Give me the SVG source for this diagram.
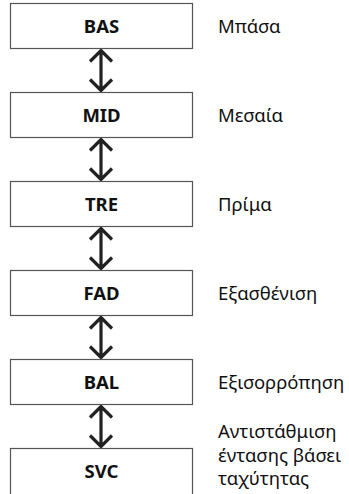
<svg xmlns="http://www.w3.org/2000/svg" width="349" height="494" viewBox="0 0 349 494">
<style>
.box{fill:#fff;stroke:#555;stroke-width:1.2}
.lbl{font-family:"Noto Sans","Open Sans",sans-serif;font-weight:bold;font-size:18.5px;fill:#111;text-anchor:middle}
.desc{font-family:"Noto Sans","Open Sans",sans-serif;font-size:18.5px;fill:#111}
.arr{fill:none;stroke:#222;stroke-width:3.2;stroke-linejoin:miter}
</style>
<rect width="349" height="494" fill="#fff"/>
<g id="connectors">
<g transform="translate(101,48.5)"><path class="arr" d="M0,2V42M-11,13L0,2L11,13M-11,31L0,42L11,31"/></g>
<g transform="translate(101,137.5)"><path class="arr" d="M0,2V42M-11,13L0,2L11,13M-11,31L0,42L11,31"/></g>
<g transform="translate(101,226.5)"><path class="arr" d="M0,2V42M-11,13L0,2L11,13M-11,31L0,42L11,31"/></g>
<g transform="translate(101,315.5)"><path class="arr" d="M0,2V42M-11,13L0,2L11,13M-11,31L0,42L11,31"/></g>
<g transform="translate(101,404.5)"><path class="arr" d="M0,2V42M-11,13L0,2L11,13M-11,31L0,42L11,31"/></g>
</g>
<g id="bas"><rect class="box" x="10.5" y="3.5" width="182" height="45"/><text class="lbl" x="101.5" y="32.5">BAS</text><text class="desc" x="218" y="32.5">Μπάσα</text></g>
<g id="mid"><rect class="box" x="10.5" y="92.5" width="182" height="45"/><text class="lbl" x="101.5" y="121.5">MID</text><text class="desc" x="218" y="121.5">Μεσαία</text></g>
<g id="tre"><rect class="box" x="10.5" y="181.5" width="182" height="45"/><text class="lbl" x="101.5" y="210.5">TRE</text><text class="desc" x="218" y="210.5">Πρίμα</text></g>
<g id="fad"><rect class="box" x="10.5" y="270.5" width="182" height="45"/><text class="lbl" x="101.5" y="299.5">FAD</text><text class="desc" x="218" y="299.5">Εξασθένιση</text></g>
<g id="bal"><rect class="box" x="10.5" y="359.5" width="182" height="45"/><text class="lbl" x="101.5" y="388.5">BAL</text><text class="desc" x="218" y="388.5">Εξισορρόπηση</text></g>
<g id="svc"><rect class="box" x="10.5" y="448.5" width="182" height="50"/><text class="lbl" x="101.5" y="477.5">SVC</text><text class="desc" x="218" y="438">Αντιστάθμιση</text><text class="desc" x="218" y="461.5">έντασης βάσει</text><text class="desc" x="218" y="485">ταχύτητας</text></g>
</svg>
